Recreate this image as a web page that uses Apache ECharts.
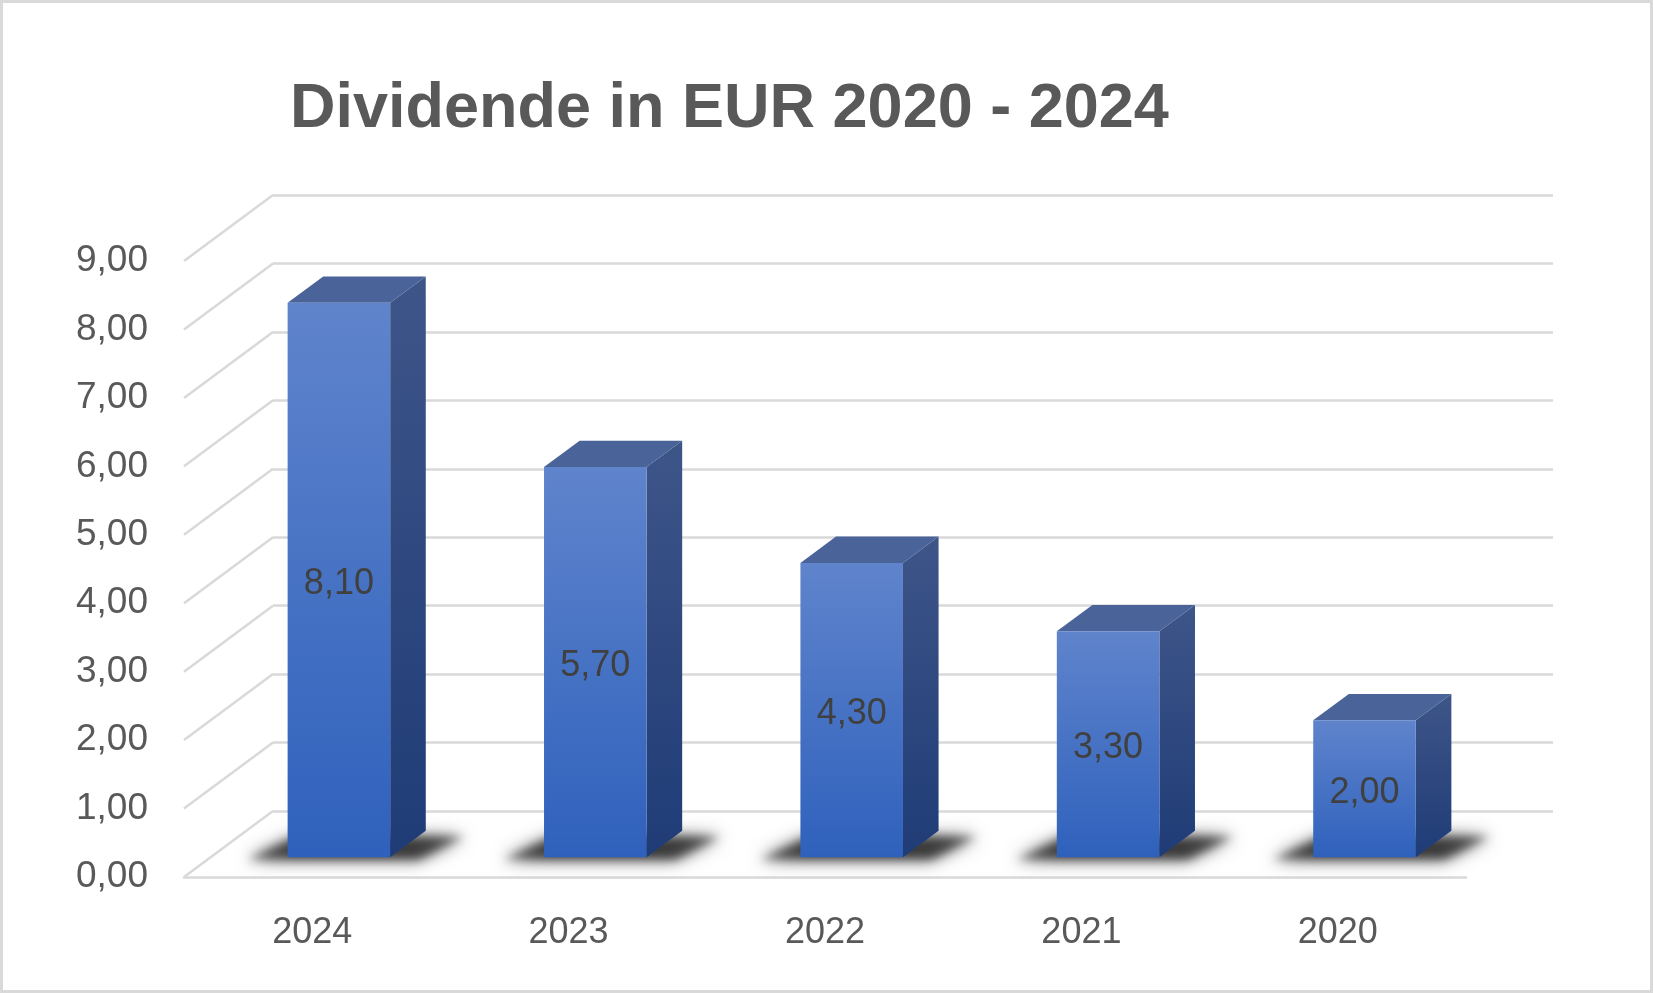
<!DOCTYPE html>
<html><head><meta charset="utf-8">
<script src="https://cdn.jsdelivr.net/npm/echarts@6/dist/echarts.min.js"></script>
<style>html,body{margin:0;padding:0;background:#fff}#c{width:1653px;height:993px}</style>
</head><body><div id="c"></div>
<script>
const categories = ['2024', '2023', '2022', '2021', '2020'];
const dividends = [8.10, 5.70, 4.30, 3.30, 2.00];
const yTicks = [0, 1, 2, 3, 4, 5, 6, 7, 8, 9];
const titleText = 'Dividende in EUR 2020 - 2024';

const FONT = 'Liberation Sans';
const fmt = v => Number(v).toFixed(2).replace('.', ',');
const DX = 89, DY = -66;      // depth offset front plane -> back wall
const F0 = 0.3, F1 = 0.7;     // bar depth range
const BAR_W = 0.4;            // fraction of category band
const GRID_C = '#d9d9d9';

const chart = echarts.init(document.getElementById('c'), null, {renderer: 'canvas'});

function diagItem(params, api) {
  const cs = params.coordSys;
  const y = api.coord([0, api.value(1)])[1];
  return {
    type: 'line',
    shape: {x1: cs.x, y1: y, x2: cs.x + DX, y2: y + DY},
    style: {stroke: GRID_C, lineWidth: 2.5}
  };
}

function barItem(params, api) {
  const i = api.value(0), v = api.value(1);
  const base = api.coord([i, 0]);
  const top = api.coord([i, v]);
  const band = api.size([1, 0])[0];
  const w = band * BAR_W;
  const fx = base[0] + F0 * DX;
  const by = base[1] + F0 * DY;
  const ty = top[1] + F0 * DY;
  const L = fx - w / 2, R = fx + w / 2;
  const ddx = (F1 - F0) * DX, ddy = (F1 - F0) * DY;
  const SHIFT = 3000;
  const shadowPts = [
    [L - 40 - SHIFT, by + 2], [R + 28 - SHIFT, by + 2],
    [R + ddx + 38 - SHIFT, by + ddy + 6], [L + ddx - 26 - SHIFT, by + ddy + 6]
  ];
  const shadowEl = (blur, col) => ({
    type: 'polygon',
    shape: {points: shadowPts},
    style: {fill: '#000', shadowBlur: blur, shadowColor: col, shadowOffsetX: SHIFT, shadowOffsetY: 0}
  });
  return {
    type: 'group',
    children: [
      shadowEl(18, 'rgba(0,0,0,0.6)'),
      shadowEl(10, 'rgba(0,0,0,0.55)'),
      {
        type: 'polygon',
        shape: {points: [[R, ty], [R + ddx, ty + ddy], [R + ddx, by + ddy], [R, by]]},
        style: {fill: new echarts.graphic.LinearGradient(0, 0, 0, 1, [
          {offset: 0, color: '#3e5588'}, {offset: 1, color: '#1f3c77'}])}
      },
      {
        type: 'polygon',
        shape: {points: [[L, ty], [R, ty], [R + ddx, ty + ddy], [L + ddx, ty + ddy]]},
        style: {fill: '#4a6399'}
      },
      {
        type: 'rect',
        shape: {x: L, y: ty, width: w, height: by - ty},
        style: {fill: new echarts.graphic.LinearGradient(0, 0, 0, 1, [
          {offset: 0, color: '#5f84cc'}, {offset: 1, color: '#2f61bc'}])}
      },
      {
        type: 'text',
        style: {
          x: fx, y: (ty + by) / 2 + 4, text: fmt(v),
          font: '36px "' + FONT + '"', fill: '#404040',
          align: 'center', verticalAlign: 'middle'
        }
      }
    ]
  };
}

chart.setOption({
  animation: false,
  backgroundColor: '#fff',
  title: {
    text: titleText, left: 285, top: 73,
    textStyle: {fontFamily: FONT, fontSize: 63, fontWeight: 'bold', color: '#595959'}
  },
  graphic: [{
    type: 'rect', z: 100,
    shape: {x: 1.5, y: 1.5, width: 1650, height: 990},
    style: {fill: 'none', stroke: '#d9d9d9', lineWidth: 3}
  }],
  grid: [
    {left: 184, right: 187, top: 261, bottom: 116},
    {left: 273, right: 100, top: 195, bottom: 182}
  ],
  xAxis: [
    {
      type: 'category', gridIndex: 0, data: categories,
      axisLine: {show: true, lineStyle: {color: GRID_C, width: 2.5}},
      axisTick: {show: false},
      axisLabel: {fontFamily: FONT, fontSize: 36, color: '#595959', margin: 38}
    },
    {type: 'category', gridIndex: 1, data: categories, show: false}
  ],
  yAxis: [
    {
      type: 'value', gridIndex: 0, min: 0, max: 9, interval: 1,
      axisLine: {show: false}, axisTick: {show: false}, splitLine: {show: false},
      axisLabel: {formatter: fmt, fontFamily: FONT, fontSize: 37, color: '#595959', margin: 36}
    },
    {
      type: 'value', gridIndex: 1, min: 0, max: 9, interval: 1,
      axisLine: {show: false}, axisTick: {show: false}, axisLabel: {show: false},
      splitLine: {show: true, lineStyle: {color: GRID_C, width: 2.5}}
    }
  ],
  series: [
    {
      type: 'custom', xAxisIndex: 0, yAxisIndex: 0, z: 1,
      renderItem: diagItem,
      data: yTicks.map(v => [0, v])
    },
    {
      type: 'custom', xAxisIndex: 0, yAxisIndex: 0, z: 5,
      renderItem: barItem,
      data: dividends.map((v, i) => [i, v])
    }
  ]
});
</script>
</body></html>
